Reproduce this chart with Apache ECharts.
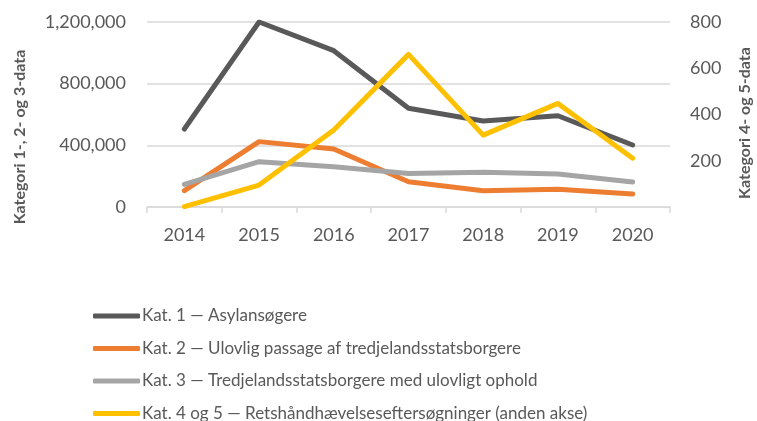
<!DOCTYPE html>
<html>
<head>
<meta charset="utf-8">
<script src="https://cdn.jsdelivr.net/npm/echarts@6/dist/echarts.min.js"></script>
<style>
  html, body { margin: 0; padding: 0; background: #fff; }
  #chart { width: 757px; height: 421px; }
</style>
</head>
<body>
<div id="chart"></div>
<script>
// data
const years = ['2014', '2015', '2016', '2017', '2018', '2019', '2020']
const kat1 = [506000, 1200000, 1014000, 640000, 558000, 592000, 402000]
const kat2 = [106000, 424000, 376000, 164000, 106000, 115000, 84000]
const kat3 = [147000, 294000, 261000, 218000, 225000, 214000, 162000]
const kat45 = [2, 95, 333, 660, 311, 448, 211]

const names = [
  'Kat. 1 — Asylansøgere',
  'Kat. 2 — Ulovlig passage af tredjelandsstatsborgere',
  'Kat. 3 — Tredjelandsstatsborgere med ulovligt ophold',
  'Kat. 4 og 5 — Retshåndhævelseseftersøgninger (anden akse)'
]
const colors = ['#595959', '#ED7D31', '#A5A5A5', '#FFC000']
const font = 'Lato, "Open Sans", sans-serif'
const textColor = '#595959'

const chart = echarts.init(document.getElementById('chart'))

function lineSeries(i, data, axis) {
  return {
    name: names[i],
    type: 'line',
    yAxisIndex: axis,
    data: data,
    symbol: 'none',
    lineStyle: { width: 5, color: colors[i], cap: 'round', join: 'round' },
    itemStyle: { color: colors[i] },
    animation: false
  }
}

chart.setOption({
  animation: false,
  color: colors,
  grid: { left: 147, right: 87, top: 22, bottom: 214 },
  legend: {
    orient: 'vertical',
    left: 88,
    top: 302,
    height: 125,
    itemGap: 14.5,
    itemWidth: 47,
    itemHeight: 5,
    icon: 'roundRect',
    textStyle: { fontFamily: font, fontSize: 17, lineHeight: 18, color: textColor, padding: [0, 0, 0, -3] },
    data: names
  },
  xAxis: {
    type: 'category',
    data: years,
    boundaryGap: true,
    axisLine: { lineStyle: { color: '#D9D9D9', width: 1.5 } },
    axisTick: { show: true, length: 6, lineStyle: { color: '#D9D9D9', width: 1.5 } },
    axisLabel: { fontFamily: font, fontSize: 18, color: textColor, margin: 19 }
  },
  yAxis: [
    {
      type: 'value',
      min: 0,
      max: 1200000,
      interval: 400000,
      axisLine: { show: false },
      axisTick: { show: false },
      splitLine: { lineStyle: { color: '#D9D9D9', width: 1.5 } },
      axisLabel: {
        fontFamily: font, fontSize: 18, color: textColor, margin: 21,
        formatter: v => v.toLocaleString('en-US')
      }
    },
    {
      type: 'value',
      min: 0,
      max: 800,
      interval: 200,
      axisLine: { show: false },
      axisTick: { show: false },
      splitLine: { show: false },
      axisLabel: {
        fontFamily: font, fontSize: 18, color: textColor, margin: 20,
        formatter: v => (v === 0 ? '' : String(v))
      }
    }
  ],
  graphic: [
    {
      type: 'text',
      x: 20,
      y: 137,
      rotation: Math.PI / 2,
      style: {
        text: 'Kategori 1-, 2- og 3-data',
        font: 'bold 16px ' + font,
        fill: textColor,
        align: 'center',
        verticalAlign: 'middle'
      }
    },
    {
      type: 'text',
      x: 745,
      y: 123,
      rotation: Math.PI / 2,
      style: {
        text: 'Kategori 4- og 5-data',
        font: 'bold 16px ' + font,
        fill: textColor,
        align: 'center',
        verticalAlign: 'middle'
      }
    }
  ],
  series: [
    lineSeries(0, kat1, 0),
    lineSeries(1, kat2, 0),
    lineSeries(2, kat3, 0),
    lineSeries(3, kat45, 1)
  ]
})
</script>
</body>
</html>
